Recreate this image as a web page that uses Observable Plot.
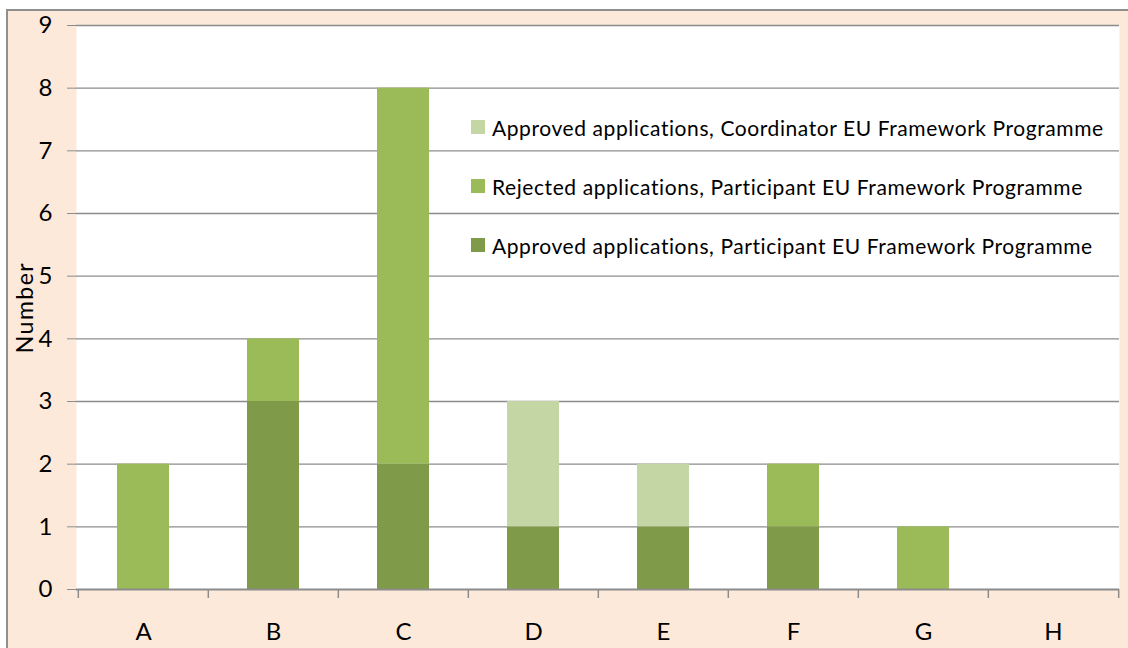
<!DOCTYPE html>
<html>
<head>
<meta charset="utf-8">
<script src="https://cdn.jsdelivr.net/npm/d3@7"></script>
<script src="https://cdn.jsdelivr.net/npm/@observablehq/plot@0.6"></script>
<style>
  html, body { margin: 0; padding: 0; background: #ffffff; overflow: hidden; }
  #wrap { position: relative; width: 1128px; height: 648px; overflow: hidden; }
  #bg { position: absolute; left: 6px; top: 9px; width: 1140px; height: 660px;
        background: #fde9d9; border: 2px solid #8f8f8f; box-sizing: border-box; }
  #chart { position: absolute; left: 0; top: 0; }
  #legend { position: absolute; left: 471px; top: 0; font-family: Lato, "Open Sans", sans-serif;
            font-size: 21px; letter-spacing: 0.58px; color: #000; }
  .item { position: absolute; left: 0; white-space: nowrap; display: flex; align-items: center; }
  .sw { width: 14px; height: 14px; margin-right: 7px; flex: none; }
</style>
</head>
<body>
<div id="wrap">
  <div id="bg"></div>
  <div id="chart"></div>
  <div id="legend"></div>
</div>
<script>
const categories = ["A", "B", "C", "D", "E", "F", "G", "H"];
const approvedParticipant = [0, 3, 2, 1, 1, 1, 0, 0];
const rejectedParticipant = [2, 1, 6, 0, 0, 1, 1, 0];
const approvedCoordinator = [0, 0, 0, 2, 1, 0, 0, 0];
const seriesNames = [
  "Approved applications, Participant EU Framework Programme",
  "Rejected applications, Participant EU Framework Programme",
  "Approved applications, Coordinator EU Framework Programme"
];
const seriesColors = ["#7f9a48", "#9bbb59", "#c4d6a4"];
const yTicks = [0, 1, 2, 3, 4, 5, 6, 7, 8, 9];

const seriesValues = [approvedParticipant, rejectedParticipant, approvedCoordinator];
const data = [];
seriesValues.forEach((vals, s) => {
  categories.forEach((c, i) => data.push({category: c, series: seriesNames[s], value: vals[i]}));
});

const font = 'Lato, "Open Sans", sans-serif';
const step = (1128 - 76 - 9) / categories.length;

const chart = Plot.plot({
  width: 1128,
  height: 648,
  marginLeft: 76,
  marginRight: 9,
  marginTop: 25,
  marginBottom: 59,
  style: {background: "transparent", fontFamily: font, color: "#000"},
  x: {domain: categories, paddingInner: 0.6, paddingOuter: 0.3, label: null},
  y: {domain: [0, 9], label: null},
  color: {domain: seriesNames, range: seriesColors},
  marks: [
    Plot.frame({fill: "white", stroke: null}),
    Plot.gridY(yTicks.filter(d => d > 0), {stroke: "#8c8c8c", strokeOpacity: 1, strokeWidth: 1.3}),
    Plot.barY(data, Plot.stackY({order: seriesNames}, {x: "category", y: "value", fill: "series", z: "series"})),
    Plot.ruleY([0], {stroke: "#8c8c8c", strokeWidth: 2}),
    Plot.ruleX([0], {frameAnchor: "left", stroke: "#8c8c8c", strokeWidth: 2}),
    Plot.ruleX(categories, {x: d => d, y1: 0, y2: 0, insetBottom: -9, dx: -step / 2, stroke: "#8c8c8c", strokeWidth: 1.5}),
    Plot.ruleX(categories.slice(-1), {x: d => d, y1: 0, y2: 0, insetBottom: -9, dx: step / 2, stroke: "#8c8c8c", strokeWidth: 1.5}),
    Plot.axisY(yTicks, {tickSize: 9, tickPadding: 15, fontSize: 24, stroke: "#8c8c8c", tickFormat: d3.format("d"), label: null}),
    Plot.axisX({tickSize: 0, tickPadding: 33, fontSize: 24, label: null}),
    Plot.text(["Number"], {frameAnchor: "left", textAnchor: "middle", dx: -51, rotate: -90, fontSize: 23, text: d => d,
      render: (i, s, v, d, c, next) => { const g = next(i, s, v, d, c); g.setAttribute("letter-spacing", "1.5"); return g; }})
  ]
});
document.getElementById("chart").appendChild(chart);

const legend = document.getElementById("legend");
const legendOrder = [2, 1, 0];
const legendTops = [127, 186, 245];
legendOrder.forEach((s, k) => {
  const item = document.createElement("div");
  item.className = "item";
  item.style.top = (legendTops[k] - 12) + "px";
  item.style.height = "24px";
  const sw = document.createElement("div");
  sw.className = "sw";
  sw.style.background = seriesColors[s];
  const t = document.createElement("span");
  t.textContent = seriesNames[s];
  item.appendChild(sw);
  item.appendChild(t);
  legend.appendChild(item);
});
</script>
</body>
</html>
